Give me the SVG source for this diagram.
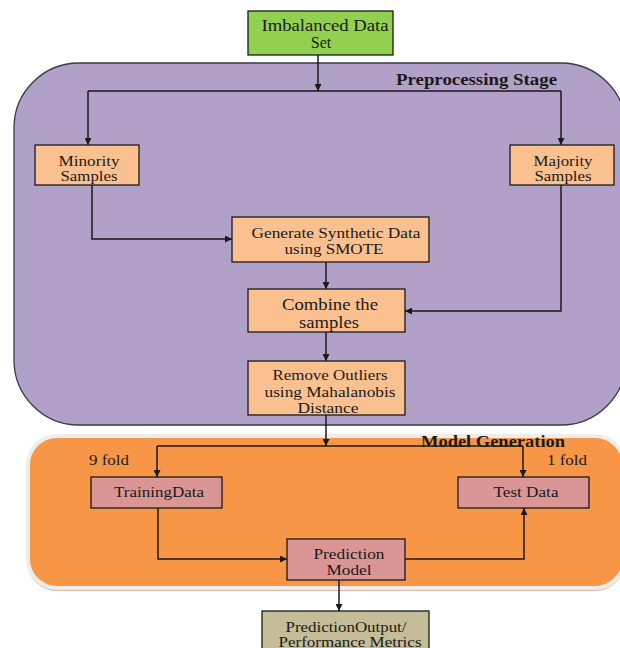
<svg xmlns="http://www.w3.org/2000/svg" width="620" height="648" viewBox="0 0 620 648">
<style>
text{font-family:"Liberation Serif","Times New Roman",serif;fill:#1a1a1a;text-anchor:middle}
.b{font-weight:bold;text-anchor:start}
.s{text-anchor:start}
.box{stroke:#1a1a1a;stroke-width:1.3}
.peach{fill:#FAC090}
.pink{fill:#D99694}
.c{fill:none;stroke:#1a1a1a;stroke-width:1.5}
</style>
<defs>
<marker id="ah" viewBox="0 0 10 10" refX="10" refY="5" markerWidth="7" markerHeight="7" markerUnits="userSpaceOnUse" orient="auto">
<path d="M0,0 L10,5 L0,10 z" fill="#1a1a1a"/>
</marker>
</defs>
<g id="preprocessing-stage">
<rect x="14" y="63" width="612" height="362" rx="65" ry="65" fill="#B1A0C7" stroke="#3a3a4a" stroke-width="1.3"/>
<text class="b" x="396" y="85" font-size="16" textLength="161" lengthAdjust="spacingAndGlyphs">Preprocessing Stage</text>
</g>
<g id="model-generation">
<rect x="28" y="439" width="596" height="151" rx="29" ry="29" fill="none" stroke="#d8b8a0" stroke-width="2"/>
<rect x="28" y="436" width="596" height="152" rx="29" ry="29" fill="#F79646" stroke="#f0ecea" stroke-width="4"/>
<text class="b" x="421" y="447" font-size="16" textLength="144" lengthAdjust="spacingAndGlyphs">Model Generation</text>
<text class="s" x="89" y="465" font-size="15" textLength="40" lengthAdjust="spacingAndGlyphs">9 fold</text>
<text class="s" x="547" y="465" font-size="15" textLength="40" lengthAdjust="spacingAndGlyphs">1 fold</text>
</g>
<g id="connectors">
<path class="c" d="M318,55 V91" marker-end="url(#ah)"/>
<path class="c" d="M88,91 H561"/>
<path class="c" d="M88,91 V145" marker-end="url(#ah)"/>
<path class="c" d="M561,91 V145" marker-end="url(#ah)"/>
<path class="c" d="M92,185 V239 H232" marker-end="url(#ah)"/>
<path class="c" d="M326,262 V289" marker-end="url(#ah)"/>
<path class="c" d="M561,185 V311 H405" marker-end="url(#ah)"/>
<path class="c" d="M326,332 V361" marker-end="url(#ah)"/>
<path class="c" d="M326,415 V446" marker-end="url(#ah)"/>
<path class="c" d="M157,446 H523"/>
<path class="c" d="M157,446 V477" marker-end="url(#ah)"/>
<path class="c" d="M523,446 V477" marker-end="url(#ah)"/>
<path class="c" d="M158,508 V559 H287" marker-end="url(#ah)"/>
<path class="c" d="M405,559 H524 V508" marker-end="url(#ah)"/>
<path class="c" d="M339,580 V611" marker-end="url(#ah)"/>
</g>
<g id="imbalanced-data-set">
<rect class="box" x="248" y="11" width="145" height="44" fill="#92D050"/>
<text x="325" y="31" font-size="16" textLength="127" lengthAdjust="spacingAndGlyphs">Imbalanced Data</text>
<text x="321" y="48" font-size="16">Set</text>
</g>
<g id="minority-samples">
<rect class="box peach" x="35" y="145" width="104" height="40"/>
<text x="89" y="166" font-size="15" textLength="61" lengthAdjust="spacingAndGlyphs">Minority</text>
<text x="89" y="181" font-size="15" textLength="57" lengthAdjust="spacingAndGlyphs">Samples</text>
</g>
<g id="majority-samples">
<rect class="box peach" x="510" y="145" width="104" height="40"/>
<text x="563" y="166" font-size="15" textLength="59" lengthAdjust="spacingAndGlyphs">Majority</text>
<text x="563" y="181" font-size="15" textLength="57" lengthAdjust="spacingAndGlyphs">Samples</text>
</g>
<g id="smote">
<rect class="box peach" x="232" y="217" width="197" height="45"/>
<text x="336" y="238" font-size="15" textLength="169" lengthAdjust="spacingAndGlyphs">Generate Synthetic Data</text>
<text x="334" y="254" font-size="15" textLength="99" lengthAdjust="spacingAndGlyphs">using SMOTE</text>
</g>
<g id="combine">
<rect class="box peach" x="248" y="289" width="157" height="43"/>
<text x="330" y="310" font-size="17" textLength="96" lengthAdjust="spacingAndGlyphs">Combine the</text>
<text x="329" y="328" font-size="17" textLength="60" lengthAdjust="spacingAndGlyphs">samples</text>
</g>
<g id="remove-outliers">
<rect class="box peach" x="248" y="361" width="157" height="54"/>
<text x="330" y="380" font-size="15" textLength="115" lengthAdjust="spacingAndGlyphs">Remove Outliers</text>
<text x="330" y="397" font-size="15" textLength="131" lengthAdjust="spacingAndGlyphs">using Mahalanobis</text>
<text x="328" y="413" font-size="15" textLength="61" lengthAdjust="spacingAndGlyphs">Distance</text>
</g>
<g id="training-data">
<rect class="box pink" x="91" y="477" width="131" height="31"/>
<text x="159" y="497" font-size="15" textLength="90" lengthAdjust="spacingAndGlyphs">TrainingData</text>
</g>
<g id="test-data">
<rect class="box pink" x="458" y="477" width="131" height="31"/>
<text x="526" y="497" font-size="15" textLength="65" lengthAdjust="spacingAndGlyphs">Test Data</text>
</g>
<g id="prediction-model">
<rect class="box pink" x="287" y="539" width="118" height="41"/>
<text x="349" y="559" font-size="15" textLength="71" lengthAdjust="spacingAndGlyphs">Prediction</text>
<text x="349" y="575" font-size="15" textLength="45" lengthAdjust="spacingAndGlyphs">Model</text>
</g>
<g id="prediction-output">
<rect class="box" x="262" y="611" width="167" height="45" fill="#C4BD97"/>
<text x="346" y="632" font-size="15" textLength="121" lengthAdjust="spacingAndGlyphs">PredictionOutput/</text>
<text x="350" y="647" font-size="15" textLength="143" lengthAdjust="spacingAndGlyphs">Performance Metrics</text>
</g>
</svg>
